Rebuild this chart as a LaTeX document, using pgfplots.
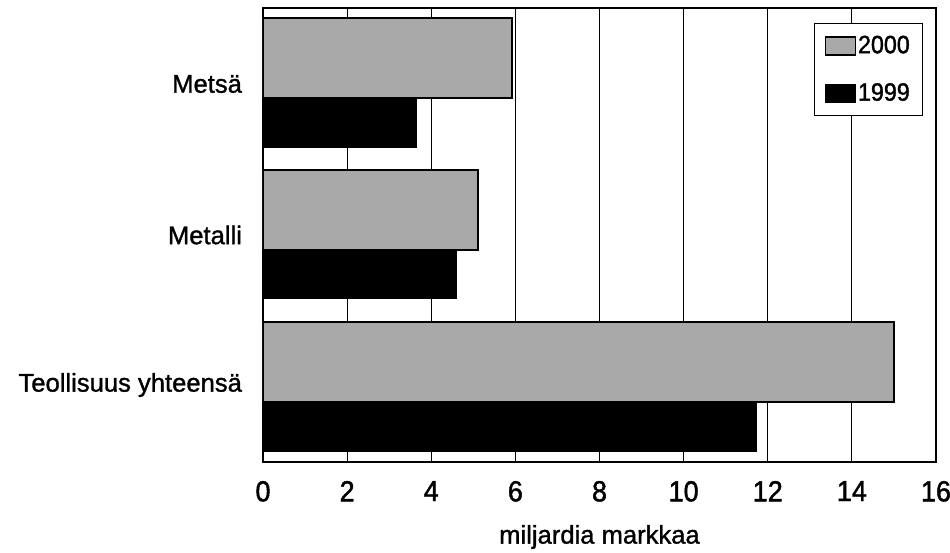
\documentclass[border=0pt]{standalone}
\usepackage{pgfplots}
\pgfplotsset{compat=1.18}
\usepackage{fontspec}
\setmainfont{Liberation Sans}[FakeBold=1.2]
\newfontfamily\condfont{Liberation Sans}[FakeStretch=0.93, FakeBold=1.5]
\definecolor{bargray}{HTML}{A9A9A9}
\begin{document}
\begin{tikzpicture}
\begin{axis}[name=ax, scale only axis, width=336.5pt, height=227pt,
 xmin=0, xmax=16, ymin=0, ymax=454,
 xtick={0,2,...,16}, ytick={77,227,378},
 yticklabels={Teollisuus yhteensä\hspace{5pt}, Metalli\hspace{3pt}, Metsä},
 major tick length=0pt,
 xmajorgrids, grid style={black, line width=0.5pt},
 axis line style={line width=0.75pt},
 xticklabel style={font=\condfont\fontsize{14.5}{16}\selectfont, yshift=-6pt},
 yticklabel style={font=\fontsize{12.8}{15}\selectfont, xshift=-7pt},
 xlabel={miljardia markkaa},
 every axis x label/.style={at={(axis description cs:0.5,0)}, anchor=center, yshift=-37.5pt, font=\fontsize{12.8}{15}\selectfont},
 /pgf/number format/assume math mode=true,
 legend style={at={(rel axis cs:0.9807,0.967)}, anchor=north east, draw=black, line width=0.75pt, inner xsep=5.25pt, inner ysep=5pt, font=\condfont\fontsize{12.5}{14}\selectfont, row sep=11.5pt, nodes={inner sep=1pt}},
 legend cell align=left,
 legend image code/.code={\draw[#1, line width=0.6pt] (0pt,-4.5pt) rectangle (15pt,4.5pt);},
]
\addplot[xbar, bar width=80, bar shift=0pt, fill=bargray, draw=black, line width=1pt] coordinates {(15.0,100) (5.11,252) (5.92,404)};
\addplot[xbar, bar width=49, bar shift=0pt, fill=black, draw=black] coordinates {(11.72,35.5) (4.59,188.5) (3.64,339.5)};
\legend{2000,1999}
\end{axis}
\pgfresetboundingbox
\path ([xshift=-131.5pt,yshift=-45pt]ax.south west) rectangle ([xshift=7pt,yshift=4pt]ax.north east);
\end{tikzpicture}
\end{document}
